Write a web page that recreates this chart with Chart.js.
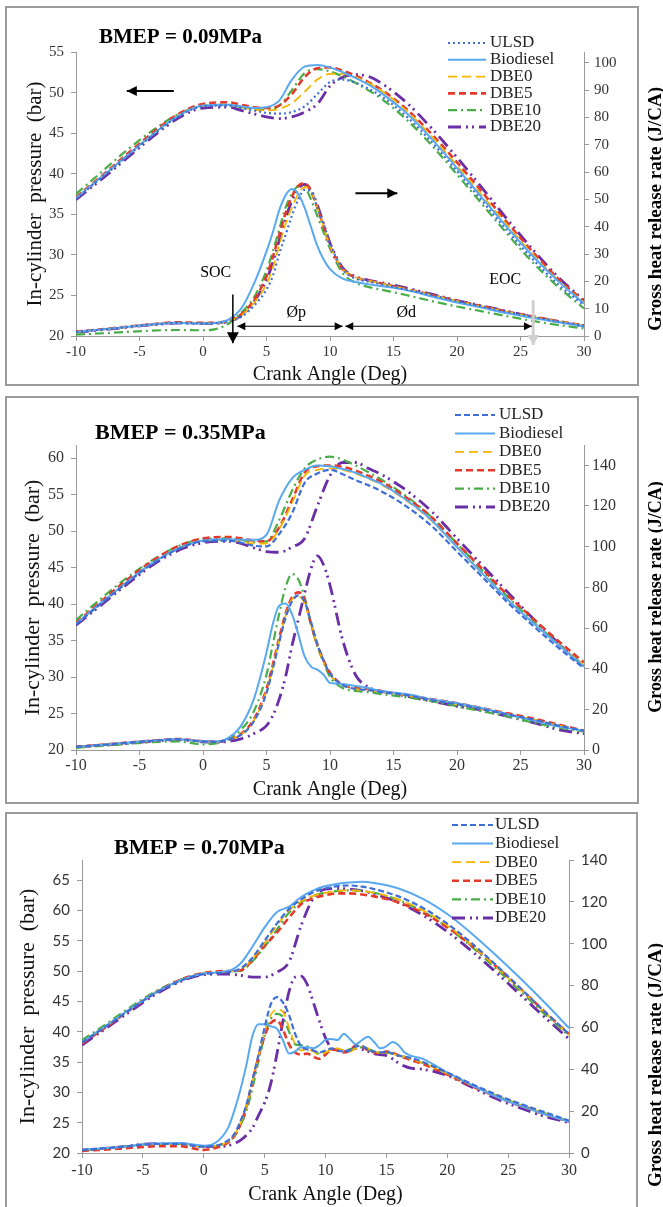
<!DOCTYPE html>
<html>
<head>
<meta charset="utf-8">
<script src="https://cdn.jsdelivr.net/npm/chart.js@4.4.1/dist/chart.umd.min.js"></script>
<style>
  body { margin: 0; background: #fff; }
  #page { position: relative; width: 663px; height: 1207px; overflow: hidden; }
  .box { position: absolute; border: 2px solid #9b9b9b; box-sizing: border-box; }
  canvas { position: absolute; left: 0; }
</style>
</head>
<body>
<div id="page">
  <div class="box" style="left:5px; top:6px; width:634px; height:380px"></div>
  <div class="box" style="left:5px; top:396px; width:634px; height:408px"></div>
  <div class="box" style="left:5px; top:812px; width:633px; height:420px"></div>
  <canvas id="load009" width="663" height="390" style="top:0px"></canvas>
  <canvas id="load035" width="663" height="415" style="top:392px"></canvas>
  <canvas id="load070" width="663" height="399" style="top:808px"></canvas>
</div>
<script>
const SERIF = "'Liberation Serif', 'Times New Roman', serif";
const SANS = "Lato, 'Liberation Sans', sans-serif";

const fuels = ["ULSD", "Biodiesel", "DBE0", "DBE5", "DBE10", "DBE20"];
const fuelColors = ["#3d6fd6", "#58a9f0", "#f7b500", "#e33a2c", "#4aae48", "#6a2ea6"];
const fuelDashes = [[6, 3], [], [9, 5], [7, 4], [9, 4, 2, 4], [13, 5, 2, 4, 2, 5]];
const fuelWidths = [2.2, 2, 1.8, 2.6, 2.2, 2.8];

// crank angles (deg)
const pressAngles = [-10, -8, -6, -4, -2, 0, 2, 3, 4, 5, 6, 7, 8, 9, 10, 11, 12, 13, 14, 16, 18, 20, 22, 24, 26, 28, 30];
const heatAngles = [-10, -7, -4, -2, 0, 1, 2, 3, 4, 5, 5.5, 6, 6.5, 7, 7.5, 8, 8.5, 9, 9.5, 10, 11, 12, 13, 14, 16, 18, 20, 22, 24, 26, 28, 30];
const heatAngles70 = [-10, -7, -4, -2, 0, 1, 2, 2.5, 3, 3.5, 4, 4.5, 5, 5.5, 6, 6.5, 7, 7.5, 8, 8.5, 9, 9.5, 10, 10.5, 11, 11.5, 12, 12.5, 13, 13.5, 14, 14.5, 15, 15.5, 16, 16.5, 17, 18, 20, 22, 24, 26, 28, 30];

// BMEP = 0.09 MPa, in-cylinder pressure (bar)
const pres09_ULSD      = [36.9,39.5,42.1,44.7,47.0,48.3,48.4,48.1,47.8,47.5,47.4,47.6,48.3,49.8,51.3,51.6,51.2,50.5,49.6,47.1,43.9,40.3,36.6,32.9,29.4,26.3,23.8];
const pres09_Biodiesel = [37.0,39.6,42.2,44.8,47.1,48.4,48.5,48.3,48.1,48.2,49.0,51.6,53.2,53.4,53.1,52.5,51.8,51.0,50.0,47.5,44.3,40.7,37.0,33.3,29.8,26.7,24.0];
const pres09_DBE0      = [37.0,39.6,42.2,44.8,47.1,48.4,48.5,48.2,47.9,47.8,48.0,48.7,50.1,51.6,52.3,52.3,51.9,51.2,50.3,47.8,44.6,41.0,37.3,33.6,30.0,26.8,24.1];
const pres09_DBE5      = [37.1,39.7,42.4,45.0,47.3,48.6,48.8,48.5,48.2,48.1,48.4,49.8,51.9,53.0,53.1,52.7,52.1,51.3,50.4,48.0,44.9,41.4,37.7,33.9,30.3,27.0,24.3];
const pres09_DBE10     = [37.5,40.2,42.9,45.3,47.3,48.4,48.5,48.2,48.0,47.9,48.4,50.3,52.4,52.9,52.6,52.0,51.2,50.3,49.3,46.7,43.5,39.9,36.2,32.5,29.0,26.0,23.4];
const pres09_DBE20     = [36.8,39.3,41.9,44.5,46.8,48.1,48.2,47.8,47.4,47.0,46.8,47.0,47.6,48.6,50.8,51.9,52.2,52.0,51.2,48.8,45.6,42.0,38.2,34.3,30.6,27.2,24.4];

// BMEP = 0.09 MPa, gross heat release rate (J/CA)
const heat09_ULSD      = [1.5,2.8,4.2,4.8,4.6,4.7,5.3,7,11,17,22,30,37,44,50,53.5,53,47,41,34,24.5,21,20,19,17,15,12.8,10.8,8.8,7,5.3,3.8];
const heat09_Biodiesel = [1.5,2.8,4.2,4.8,4.6,4.8,6.0,10,19,31,38,46,51.5,53.8,52,47,40,33,28,24.5,21,19.8,19,18.3,16.8,14.5,12.3,10.3,8.3,6.6,5.0,3.5];
const heat09_DBE0      = [1.5,2.8,4.2,4.8,4.6,4.7,5.4,7.5,12,19,25,33,41,47,52,54.5,53,47,40,33,24.5,21.5,20.3,19.3,17.2,15,12.8,10.8,8.8,7,5.3,3.8];
const heat09_DBE5      = [1.6,2.9,4.3,5.0,4.8,4.9,5.6,8,13,22,29,37,45,51,55,56,53,47,40,33,24.5,21.5,20.3,19.3,17.2,15.1,12.9,10.9,8.9,7.1,5.4,3.9];
const heat09_DBE10     = [0.5,1.2,2.0,2.2,2.1,2.5,4.5,8.5,14,24,31,39,47,52,54.8,54.5,50,44,38,32,23,19.5,18,17,15,12.8,10.8,9,7.2,5.5,4,2.8];
const heat09_DBE20     = [1.4,2.7,4.1,4.7,4.5,4.6,5.3,7.5,12.5,20.5,27,35,43,49.5,54,55.5,53.5,48,41,34,25,21.8,20.5,19.6,17.6,15.3,13,11,9,7,5.2,3.6];

// BMEP = 0.35 MPa, in-cylinder pressure (bar)
const pres35_ULSD      = [37.2,40.1,42.9,45.5,47.5,48.6,48.7,48.4,48.0,47.9,49.6,52.4,56.6,57.9,58.4,57.8,57.0,56.3,55.5,53.4,50.7,47.2,43.7,40.2,37.0,34.0,31.2];
const pres35_Biodiesel = [37.3,40.2,43.0,45.6,47.6,48.7,48.9,48.8,48.8,49.5,54.2,57.2,58.4,59.0,58.9,58.5,58.0,57.3,56.5,54.3,51.5,47.8,44.2,40.6,37.4,34.4,31.4];
const pres35_DBE0      = [37.3,40.2,43.0,45.6,47.6,48.7,48.8,48.6,48.3,48.3,50.3,53.8,57.6,58.4,58.6,58.4,57.9,57.2,56.4,54.2,51.4,47.8,44.2,40.6,37.4,34.4,31.6];
const pres35_DBE5      = [37.4,40.4,43.3,45.9,47.9,49.0,49.2,49.0,48.7,48.6,50.5,54.2,58.0,58.9,59.0,58.8,58.3,57.6,56.8,54.6,51.9,48.3,44.8,41.2,38.0,34.9,32.0];
const pres35_DBE10     = [37.8,40.8,43.6,46.0,47.9,48.9,49.0,48.8,48.5,48.6,51.5,55.5,58.6,59.8,60.2,59.8,59.0,58.1,57.1,54.8,51.9,48.3,44.6,41.0,37.6,34.5,31.5];
const pres35_DBE20     = [37.1,39.9,42.7,45.3,47.3,48.4,48.6,48.3,47.7,47.2,47.1,47.8,49.0,53.4,57.6,59.4,59.4,58.6,57.8,55.6,52.7,49.0,45.3,41.6,38.0,34.6,31.4];

// BMEP = 0.35 MPa, gross heat release rate (J/CA)
const heat35_ULSD      = [1.5,3,4.5,5.3,4.2,4.0,5,7.5,14,28,40,53,65,73,76,73,63,52,44,37.5,32,30,29.5,28.5,27,24.5,22.5,20,17.5,15,12,9.5];
const heat35_Biodiesel = [1.5,3,4.5,5.3,4.2,4.2,6,12,25,48,62,71,72,67,57,46,41,39.5,37,33,32.5,31.5,30.5,29,27.5,25,23,20.5,17.5,14.5,11.5,9.5];
const heat35_DBE0      = [1.5,3,4.5,5.3,4.2,4.0,5,7.5,14.5,29,41,54,66,74,75.5,72,62,51,43,37,32,30,29.5,28.5,27,24.5,22.5,20,17.5,15,12,9.5];
const heat35_DBE5      = [1.6,3.1,4.6,5.4,4.3,4.1,5,8,15,30,42,55,67,75,77.5,74,62,52,44,38,32,30.5,30,29,27,25,23,20.5,18,15.5,12.5,9.5];
const heat35_DBE10     = [1,2.5,3.8,4.2,2.8,3.2,5.5,10,19,37,52,67,80,86.5,84,75,62,51,43,36,30.5,29,28.5,27.5,26,24,21.5,19,16.5,13.5,11,9];
const heat35_DBE20     = [1.5,2.8,4.3,5,4,3.8,4.2,5.5,8,12,17,25,36,51,64,77,89,95.5,91,81,54,37,31,29,26.5,24,21.5,19.5,16.5,13.5,10,8];

// BMEP = 0.70 MPa, in-cylinder pressure (bar)
const pres70_ULSD      = [38.2,40.9,43.7,46.3,48.3,49.5,49.8,50.4,52.2,55.0,57.8,60.2,61.8,63.0,63.6,64.0,64.1,63.9,63.5,62.3,60.4,57.8,54.6,51.0,47.2,43.3,39.6];
const pres70_Biodiesel = [38.3,41.0,43.8,46.4,48.4,49.6,50.0,51.2,54.0,57.2,59.7,60.6,62.2,63.3,64.0,64.4,64.6,64.7,64.5,63.6,61.9,59.4,56.2,52.6,48.8,44.8,40.6];
const pres70_DBE0      = [38.3,41.0,43.8,46.4,48.4,49.6,49.9,50.2,52.0,54.6,57.5,60.0,61.5,62.4,62.9,63.2,63.3,63.2,62.9,61.8,60.0,57.5,54.3,50.7,47.0,43.2,39.5];
const pres70_DBE5      = [38.0,40.8,43.7,46.4,48.5,49.7,50.0,50.1,51.8,54.2,56.3,58.8,61.0,62.0,62.5,62.8,62.8,62.6,62.3,61.3,59.6,57.2,54.2,50.8,47.1,43.3,39.6];
const pres70_DBE10     = [38.6,41.3,44.1,46.6,48.5,49.6,49.9,50.0,51.6,54.0,56.8,59.6,61.3,62.4,62.9,63.2,63.3,63.2,62.9,61.7,59.8,57.2,54.0,50.4,46.7,42.9,39.3];
const pres70_DBE20     = [37.8,40.6,43.4,46.1,48.2,49.4,49.5,49.3,49.0,49.0,49.8,51.5,57.5,62.0,63.5,63.6,63.5,63.2,62.7,61.3,59.2,56.5,53.3,49.8,46.1,42.4,38.8];

// BMEP = 0.70 MPa, gross heat release rate (J/CA)
const heat70_ULSD      = [1.4,2.8,4.3,4.3,3,3.5,6, 9,15,23,35,47,60,71,74.5,72,66, 57,51,49.5,49,48,49,50,49,48.5,49, 51,51,49.5,48.5,48,48.5,47.5,46.5,46,45.5, 43.5,38.5,33,28,23.5,19.5,15.5];
const heat70_Biodiesel = [1.4,2.8,4.5,4.8,3.5,5,12, 20,30,42,56,61.5,61.5,60.5,59.5,54,47.5, 48.5,50.5,50.5,50,51.5,54,54.5,54,57,54.5, 52,54,55.5,53,50,51,53,51.5,48,46.5, 45,38.5,32.5,27,22.5,18.5,15];
const heat70_DBE0      = [1.4,2.8,4.3,4.3,3,3.4,5.5, 8.5,14,22,34,46,58,66,68.5,67.5,60, 52,49,49.5,48.5,47,48,49.5,50,49,48.5, 50,51,50,48.5,48,48,47.5,46.5,46,45, 43,38,32.5,27.5,23,19,15.2];
const heat70_DBE5      = [1,2,3.2,3.3,1.5,2.5,5, 8,13.5,22,34,46,56,62,63.5,59,52, 48,47,47.5,46,45,47,49.5,49,48,49, 51.5,51,49,48,47.5,48.5,48,46.5,45.5,44.5, 42.5,37.5,32,27,22.5,18.5,15];
const heat70_DBE10     = [1.4,2.8,4.3,4.3,3,3.3,5.5, 8,13,20,31,44,56,64,66.5,65,58, 52,51.5,51,49,47.5,48,49.5,49.5,49,49.5, 50.5,50.5,49.5,48.5,48,48,47.5,46.5,46,45, 43,38,32.5,27.5,23,19,15.2];
const heat70_DBE20     = [1.4,2.8,4.5,4.5,3,3,3.5, 4.5,6,8.5,12,18,24,33,47,63,77, 84,84.5,80.5,72,63,55,50,49,48.5,49, 50,49.5,48.5,47.5,47,46.5,45,43,41.5,40.5, 40,37,31.5,26,21.5,17.5,14.5];

function arrowHead(ctx, x1, y1, x2, y2, len, half) {
    const a = Math.atan2(y2 - y1, x2 - x1);
    const bx = x2 - len * Math.cos(a), by = y2 - len * Math.sin(a);
    ctx.beginPath();
    ctx.moveTo(x2, y2);
    ctx.lineTo(bx + half * Math.sin(a), by - half * Math.cos(a));
    ctx.lineTo(bx - half * Math.sin(a), by + half * Math.cos(a));
    ctx.closePath();
    ctx.fill();
}

// title, legend, right axis title and the 0.09 MPa markers
const panelDecor = {
    id: "panelDecor",
    afterDraw(chart, args, o) {
        const ctx = chart.ctx;
        const xs = chart.scales.x, ys = chart.scales.y;
        ctx.save();
        ctx.textBaseline = "middle";
        ctx.textAlign = "left";
        ctx.fillStyle = "#000";
        ctx.font = "bold " + o.titleSize + "px " + SERIF;
        ctx.fillText(o.title, o.titleX, o.titleY);

        ctx.font = o.legendSize + "px " + SERIF;
        fuels.forEach((name, i) => {
            const y = o.legendY + i * o.legendGap;
            ctx.strokeStyle = fuelColors[i];
            ctx.lineWidth = fuelWidths[i];
            ctx.setLineDash(i === 0 && o.ulsdDash ? o.ulsdDash : fuelDashes[i]);
            ctx.beginPath();
            ctx.moveTo(o.legendX1, y);
            ctx.lineTo(o.legendX2, y);
            ctx.stroke();
            ctx.fillStyle = "#222";
            ctx.fillText(name, o.legendTextX, y);
        });
        ctx.setLineDash([]);

        ctx.save();
        ctx.translate(o.rightTitleX, o.rightTitleY);
        ctx.rotate(-Math.PI / 2);
        ctx.textAlign = "center";
        ctx.fillStyle = "#000";
        ctx.font = "bold " + o.rightTitleSize + "px " + SERIF;
        ctx.fillText("Gross heat release rate (J/CA)", 0, 0);
        ctx.restore();

        (o.notes || []).forEach(n => {
            if (n.text) {
                ctx.font = "16px " + SERIF;
                ctx.textAlign = "center";
                ctx.fillStyle = "#000";
                ctx.fillText(n.text, xs.getPixelForValue(n.at[0]), ys.getPixelForValue(n.at[1]));
                return;
            }
            const x1 = xs.getPixelForValue(n.from[0]), y1 = ys.getPixelForValue(n.from[1]);
            const x2 = xs.getPixelForValue(n.to[0]), y2 = ys.getPixelForValue(n.to[1]);
            ctx.strokeStyle = ctx.fillStyle = n.color || "#000";
            ctx.lineWidth = n.width;
            ctx.beginPath();
            ctx.moveTo(x1, y1);
            ctx.lineTo(x2, y2);
            ctx.stroke();
            arrowHead(ctx, x1, y1, x2, y2, n.head, n.half);
            if (n.both) arrowHead(ctx, x2, y2, x1, y1, n.head, n.half);
        });
        ctx.restore();
    }
};

const panels = [
    {
        canvas: "load009", title: "BMEP = 0.09MPa",
        pres: [pres09_ULSD, pres09_Biodiesel, pres09_DBE0, pres09_DBE5, pres09_DBE10, pres09_DBE20],
        heat: [heat09_ULSD, heat09_Biodiesel, heat09_DBE0, heat09_DBE5, heat09_DBE10, heat09_DBE20],
        heatX: heatAngles, ulsdDash: [2, 3],
        leftMax: 55, rightMax: 104, rightStep: 10,
        top: 52, leftW: 76, rightW: 79, xAxisH: 54,
        tickSize: 15, yFont: SERIF, xTickPad: 2, yTickPad: 7, y1TickPad: 5,
        yTitleSize: 21, yTitlePad: 23, xTitlePad: 3,
        titleX: 99, titleY: 38, titleSize: 21,
        legendX1: 448, legendX2: 486, legendTextX: 490, legendY: 43, legendGap: 16.8, legendSize: 17,
        rightTitleX: 656, rightTitleY: 209, rightTitleSize: 19,
        notes: [
            {from: [-2.3, 50.2], to: [-6.0, 50.2], width: 2, head: 10, half: 5},
            {from: [12.0, 37.6], to: [15.3, 37.6], width: 2, head: 10, half: 5},
            {text: "SOC", at: [1.0, 27.8]},
            {from: [2.35, 25.1], to: [2.35, 19.1], width: 1.5, head: 11, half: 6},
            {text: "EOC", at: [23.8, 26.9]},
            {from: [26.0, 24.4], to: [26.0, 18.9], width: 3, head: 10, half: 6, color: "#d0d0d0"},
            {from: [2.7, 21.2], to: [11.0, 21.2], width: 1.2, head: 8, half: 4, both: true},
            {from: [11.2, 21.2], to: [25.9, 21.2], width: 1.2, head: 8, half: 4, both: true},
            {text: "Øp", at: [7.35, 22.8]},
            {text: "Ød", at: [16.0, 22.8]}
        ]
    },
    {
        canvas: "load035", title: "BMEP = 0.35MPa",
        pres: [pres35_ULSD, pres35_Biodiesel, pres35_DBE0, pres35_DBE5, pres35_DBE10, pres35_DBE20],
        heat: [heat35_ULSD, heat35_Biodiesel, heat35_DBE0, heat35_DBE5, heat35_DBE10, heat35_DBE20],
        heatX: heatAngles,
        leftMax: 61.8, rightMax: 150, rightStep: 20,
        top: 53, leftW: 76, rightW: 79, xAxisH: 57,
        tickSize: 16, yFont: SERIF, xTickPad: 1, yTickPad: 7, y1TickPad: 3,
        yTitleSize: 22, yTitlePad: 20, xTitlePad: 5,
        titleX: 95, titleY: 41, titleSize: 22,
        legendX1: 455, legendX2: 495, legendTextX: 499, legendY: 23, legendGap: 18.4, legendSize: 17,
        rightTitleX: 656, rightTitleY: 205, rightTitleSize: 18
    },
    {
        canvas: "load070", title: "BMEP = 0.70MPa",
        pres: [pres70_ULSD, pres70_Biodiesel, pres70_DBE0, pres70_DBE5, pres70_DBE10, pres70_DBE20],
        heat: [heat70_ULSD, heat70_Biodiesel, heat70_DBE0, heat70_DBE5, heat70_DBE10, heat70_DBE20],
        heatX: heatAngles70,
        leftMax: 68.3, rightMax: 140, rightStep: 20,
        top: 52, leftW: 82, rightW: 94, xAxisH: 54,
        tickSize: 16, yFont: SANS, yTickSize: 15, xTickPad: 3, yTickPad: 7, y1TickPad: 7,
        yTitleSize: 22, yTitlePad: 15, xTitlePad: 0,
        titleX: 114, titleY: 40, titleSize: 22,
        legendX1: 452, legendX2: 493, legendTextX: 495, legendY: 17, legendGap: 18.6, legendSize: 17,
        rightTitleX: 656, rightTitleY: 257, rightTitleSize: 19
    }
];

function buildPanel(p) {
    const datasets = [];
    fuels.forEach((name, i) => {
        const style = {
            borderColor: fuelColors[i],
            borderWidth: fuelWidths[i],
            borderDash: i === 0 && p.ulsdDash ? p.ulsdDash : fuelDashes[i],
            pointRadius: 0,
            fill: false,
            cubicInterpolationMode: "monotone"
        };
        datasets.push(Object.assign({
            label: name + " pressure", yAxisID: "y",
            data: pressAngles.map((a, k) => ({x: a, y: p.pres[i][k]}))
        }, style));
        datasets.push(Object.assign({
            label: name + " heat release", yAxisID: "y1",
            data: p.heatX.map((a, k) => ({x: a, y: p.heat[i][k]}))
        }, style));
    });

    const axisGrid = {drawOnChartArea: false, drawTicks: true, tickLength: 5, color: "#9a9a9a"};
    const yTickSize = p.yTickSize || p.tickSize;

    new Chart(document.getElementById(p.canvas), {
        type: "line",
        data: {datasets},
        options: {
            responsive: false,
            animation: false,
            devicePixelRatio: 1,
            layout: {padding: {top: p.top, left: 0, right: 0, bottom: 0}},
            plugins: {
                legend: {display: false},
                tooltip: {enabled: false},
                panelDecor: p
            },
            scales: {
                x: {
                    type: "linear", min: -10, max: 30,
                    ticks: {stepSize: 5, maxRotation: 0, padding: p.xTickPad, color: "#333",
                            font: {family: SERIF, size: p.tickSize}},
                    grid: axisGrid,
                    border: {color: "#9a9a9a"},
                    title: {display: true, text: "Crank Angle (Deg)", color: "#111",
                            font: {family: SERIF, size: 20}, padding: {top: 0, bottom: p.xTitlePad}},
                    afterFit: s => { s.height = p.xAxisH; }
                },
                y: {
                    position: "left", min: 20, max: p.leftMax,
                    ticks: {stepSize: 5, includeBounds: false, padding: p.yTickPad, color: "#333",
                            font: {family: p.yFont, size: yTickSize}},
                    grid: axisGrid,
                    border: {color: "#9a9a9a"},
                    title: {display: true, text: "In-cylinder  pressure  (bar)", color: "#111",
                            font: {family: SERIF, size: p.yTitleSize}, padding: {top: p.yTitlePad, bottom: 0}},
                    afterFit: s => { s.width = p.leftW; }
                },
                y1: {
                    position: "right", min: 0, max: p.rightMax,
                    ticks: {stepSize: p.rightStep, includeBounds: false, padding: p.y1TickPad, color: "#333",
                            font: {family: p.yFont, size: yTickSize}},
                    grid: axisGrid,
                    border: {color: "#9a9a9a"},
                    afterFit: s => { s.width = p.rightW; }
                }
            }
        },
        plugins: [panelDecor]
    });
}

panels.forEach(buildPanel);
</script>
</body>
</html>
